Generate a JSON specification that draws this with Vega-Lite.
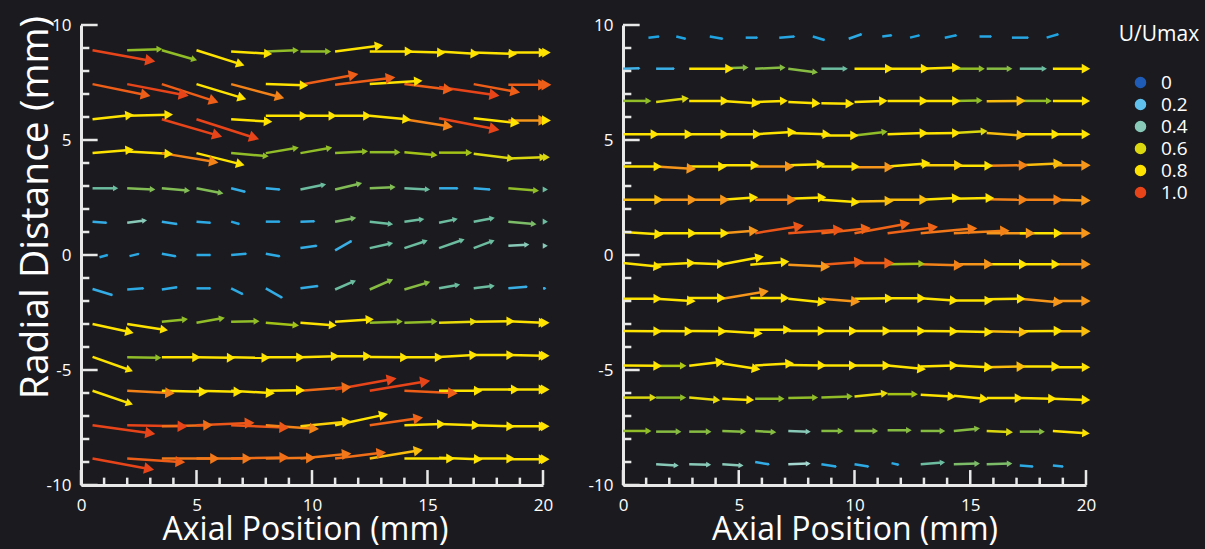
{
  "$schema": "https://vega.github.io/schema/vega-lite/v6.json",
  "background": "#1b1b1f",
  "autosize": {"type": "pad"},
  "padding": {"left": 15, "top": 15, "right": 40, "bottom": 30},
  "config": {
    "view": {"stroke": null},
    "font": "Open Sans"
  },
  "datasets": {
    "L": [
      {"x":0.5,"y":8.9,"x2":3.0,"y2":8.45,"s":1},
      {"x":2.0,"y":8.9,"x2":3.4,"y2":8.95,"s":0.5},
      {"x":3.5,"y":8.9,"x2":4.9,"y2":8.5,"s":0.5},
      {"x":5.0,"y":8.9,"x2":6.9,"y2":8.3,"s":0.8},
      {"x":6.5,"y":8.85,"x2":8.1,"y2":8.75,"s":0.75},
      {"x":8.0,"y":8.85,"x2":9.3,"y2":8.9,"s":0.5},
      {"x":9.5,"y":8.85,"x2":10.7,"y2":8.85,"s":0.5},
      {"x":11.0,"y":8.85,"x2":12.9,"y2":9.1,"s":0.8},
      {"x":12.5,"y":8.85,"x2":14.2,"y2":8.85,"s":0.8},
      {"x":14.0,"y":8.85,"x2":15.6,"y2":8.8,"s":0.8},
      {"x":15.5,"y":8.85,"x2":17.05,"y2":8.75,"s":0.8},
      {"x":17.0,"y":8.8,"x2":18.7,"y2":8.75,"s":0.8},
      {"x":18.5,"y":8.8,"x2":20.0,"y2":8.8,"s":0.8},
      {"x":20.0,"y":8.8,"x2":20.15,"y2":8.8,"s":0.8},
      {"x":0.5,"y":7.43,"x2":2.8,"y2":6.96,"s":0.96},
      {"x":2.0,"y":7.43,"x2":4.45,"y2":6.96,"s":1},
      {"x":3.5,"y":7.43,"x2":5.75,"y2":6.7,"s":0.96},
      {"x":5.0,"y":7.43,"x2":6.97,"y2":6.83,"s":0.84},
      {"x":6.5,"y":7.43,"x2":8.6,"y2":6.87,"s":0.92},
      {"x":8.0,"y":7.43,"x2":9.65,"y2":7.38,"s":0.78},
      {"x":9.5,"y":7.4,"x2":11.8,"y2":7.83,"s":0.96},
      {"x":11.0,"y":7.4,"x2":13.4,"y2":7.7,"s":0.96},
      {"x":12.5,"y":7.43,"x2":14.6,"y2":7.56,"s":0.8},
      {"x":14.0,"y":7.43,"x2":15.9,"y2":7.2,"s":0.96},
      {"x":15.5,"y":7.3,"x2":17.9,"y2":6.96,"s":1},
      {"x":17.0,"y":7.43,"x2":18.8,"y2":7.1,"s":0.96},
      {"x":18.5,"y":7.4,"x2":20.0,"y2":7.4,"s":0.96},
      {"x":20.0,"y":7.4,"x2":20.15,"y2":7.4,"s":0.96},
      {"x":0.5,"y":5.9,"x2":2.1,"y2":6.08,"s":0.8},
      {"x":2.0,"y":6.05,"x2":3.8,"y2":6.1,"s":0.8},
      {"x":3.5,"y":5.9,"x2":5.9,"y2":5.2,"s":1},
      {"x":5.0,"y":5.9,"x2":7.5,"y2":5.1,"s":1},
      {"x":6.5,"y":5.9,"x2":8.1,"y2":5.8,"s":0.8},
      {"x":8.0,"y":6.05,"x2":9.65,"y2":6.05,"s":0.8},
      {"x":9.5,"y":6.05,"x2":10.9,"y2":6.05,"s":0.8},
      {"x":11.0,"y":6.05,"x2":12.4,"y2":6.05,"s":0.8},
      {"x":12.5,"y":6.05,"x2":14.1,"y2":5.9,"s":0.8},
      {"x":14.0,"y":5.9,"x2":15.9,"y2":5.6,"s":0.92},
      {"x":15.5,"y":5.95,"x2":17.9,"y2":5.48,"s":1},
      {"x":17.0,"y":5.95,"x2":18.8,"y2":5.75,"s":0.86},
      {"x":18.5,"y":5.85,"x2":20.0,"y2":5.85,"s":0.9},
      {"x":20.0,"y":5.85,"x2":20.15,"y2":5.85,"s":0.85},
      {"x":0.5,"y":4.43,"x2":2.1,"y2":4.57,"s":0.78},
      {"x":2.0,"y":4.5,"x2":3.8,"y2":4.4,"s":0.8},
      {"x":3.5,"y":4.43,"x2":5.75,"y2":4.05,"s":0.92},
      {"x":5.0,"y":4.43,"x2":6.9,"y2":3.95,"s":0.82},
      {"x":6.5,"y":4.43,"x2":8.0,"y2":4.3,"s":0.5},
      {"x":8.0,"y":4.43,"x2":9.3,"y2":4.65,"s":0.5},
      {"x":9.5,"y":4.43,"x2":10.75,"y2":4.65,"s":0.5},
      {"x":11.0,"y":4.43,"x2":12.3,"y2":4.5,"s":0.5},
      {"x":12.5,"y":4.47,"x2":13.7,"y2":4.47,"s":0.5},
      {"x":14.0,"y":4.47,"x2":15.3,"y2":4.35,"s":0.55},
      {"x":15.5,"y":4.45,"x2":16.8,"y2":4.45,"s":0.55},
      {"x":17.0,"y":4.4,"x2":18.6,"y2":4.2,"s":0.6},
      {"x":18.5,"y":4.2,"x2":20.0,"y2":4.25,"s":0.6},
      {"x":20.0,"y":4.25,"x2":20.15,"y2":4.25,"s":0.6},
      {"x":0.5,"y":2.9,"x2":1.5,"y2":2.9,"s":0.42},
      {"x":2.0,"y":2.9,"x2":3.1,"y2":2.85,"s":0.46},
      {"x":3.5,"y":2.9,"x2":4.6,"y2":2.8,"s":0.46},
      {"x":5.0,"y":2.9,"x2":6.05,"y2":2.7,"s":0.46},
      {"x":6.5,"y":2.9,"x2":7.1,"y2":2.75,"s":0.14},
      {"x":8.0,"y":2.9,"x2":8.6,"y2":2.85,"s":0.14},
      {"x":9.5,"y":2.85,"x2":10.5,"y2":3.05,"s":0.42},
      {"x":11.0,"y":2.85,"x2":12.05,"y2":3.1,"s":0.46},
      {"x":12.5,"y":2.9,"x2":13.5,"y2":2.95,"s":0.46},
      {"x":14.0,"y":2.9,"x2":15.0,"y2":2.85,"s":0.42},
      {"x":15.5,"y":2.9,"x2":16.3,"y2":2.9,"s":0.14},
      {"x":17.0,"y":2.9,"x2":17.7,"y2":2.85,"s":0.14},
      {"x":18.5,"y":2.9,"x2":19.7,"y2":2.8,"s":0.5},
      {"x":20.0,"y":2.85,"x2":20.1,"y2":2.85,"s":0.42},
      {"x":0.5,"y":1.45,"x2":1.1,"y2":1.4,"s":0.14},
      {"x":2.0,"y":1.4,"x2":2.75,"y2":1.5,"s":0.4},
      {"x":3.5,"y":1.45,"x2":4.15,"y2":1.35,"s":0.14},
      {"x":5.0,"y":1.45,"x2":5.6,"y2":1.4,"s":0.13},
      {"x":6.5,"y":1.45,"x2":6.85,"y2":1.35,"s":0.12},
      {"x":8.0,"y":1.45,"x2":8.6,"y2":1.45,"s":0.13},
      {"x":9.5,"y":1.45,"x2":10.1,"y2":1.47,"s":0.14},
      {"x":11.0,"y":1.45,"x2":11.8,"y2":1.6,"s":0.45},
      {"x":12.5,"y":1.45,"x2":13.4,"y2":1.35,"s":0.42},
      {"x":14.0,"y":1.45,"x2":14.75,"y2":1.55,"s":0.42},
      {"x":15.5,"y":1.4,"x2":16.2,"y2":1.55,"s":0.42},
      {"x":17.0,"y":1.45,"x2":17.8,"y2":1.6,"s":0.42},
      {"x":18.5,"y":1.45,"x2":19.6,"y2":1.35,"s":0.45},
      {"x":20.0,"y":1.45,"x2":20.1,"y2":1.45,"s":0.42},
      {"x":0.8,"y":-0.1,"x2":1.15,"y2":0.0,"s":0.12},
      {"x":2.1,"y":-0.05,"x2":2.5,"y2":0.05,"s":0.13},
      {"x":3.5,"y":0.05,"x2":4.1,"y2":-0.05,"s":0.13},
      {"x":5.0,"y":0.0,"x2":5.6,"y2":0.0,"s":0.13},
      {"x":6.5,"y":0.0,"x2":7.15,"y2":0.05,"s":0.13},
      {"x":8.0,"y":0.05,"x2":8.6,"y2":-0.05,"s":0.13},
      {"x":9.5,"y":0.3,"x2":10.2,"y2":0.4,"s":0.14},
      {"x":11.0,"y":0.2,"x2":11.7,"y2":0.6,"s":0.15},
      {"x":12.5,"y":0.3,"x2":13.4,"y2":0.5,"s":0.42},
      {"x":14.0,"y":0.3,"x2":14.9,"y2":0.6,"s":0.42},
      {"x":15.5,"y":0.3,"x2":16.5,"y2":0.65,"s":0.42},
      {"x":17.0,"y":0.3,"x2":17.8,"y2":0.6,"s":0.42},
      {"x":18.5,"y":0.4,"x2":19.3,"y2":0.45,"s":0.4},
      {"x":20.0,"y":0.4,"x2":20.1,"y2":0.4,"s":0.4},
      {"x":0.5,"y":-1.48,"x2":1.35,"y2":-1.74,"s":0.14},
      {"x":2.0,"y":-1.5,"x2":2.7,"y2":-1.45,"s":0.13},
      {"x":3.5,"y":-1.5,"x2":4.15,"y2":-1.4,"s":0.13},
      {"x":5.0,"y":-1.45,"x2":5.6,"y2":-1.45,"s":0.13},
      {"x":6.5,"y":-1.45,"x2":7.0,"y2":-1.7,"s":0.13},
      {"x":8.0,"y":-1.45,"x2":8.7,"y2":-1.85,"s":0.14},
      {"x":9.5,"y":-1.45,"x2":10.25,"y2":-1.35,"s":0.14},
      {"x":11.0,"y":-1.5,"x2":11.8,"y2":-1.15,"s":0.42},
      {"x":12.5,"y":-1.5,"x2":13.4,"y2":-1.1,"s":0.47},
      {"x":14.0,"y":-1.5,"x2":15.0,"y2":-1.2,"s":0.47},
      {"x":15.5,"y":-1.45,"x2":16.3,"y2":-1.3,"s":0.42},
      {"x":17.0,"y":-1.45,"x2":17.8,"y2":-1.35,"s":0.42},
      {"x":18.5,"y":-1.45,"x2":19.3,"y2":-1.38,"s":0.15},
      {"x":20.0,"y":-1.45,"x2":20.1,"y2":-1.45,"s":0.15},
      {"x":0.5,"y":-3.0,"x2":2.1,"y2":-3.35,"s":0.8},
      {"x":2.0,"y":-3.0,"x2":3.6,"y2":-3.25,"s":0.7},
      {"x":3.5,"y":-2.9,"x2":4.5,"y2":-2.8,"s":0.5},
      {"x":5.0,"y":-2.95,"x2":6.1,"y2":-2.75,"s":0.5},
      {"x":6.5,"y":-2.9,"x2":7.6,"y2":-2.88,"s":0.5},
      {"x":8.0,"y":-2.95,"x2":9.3,"y2":-3.05,"s":0.55},
      {"x":9.5,"y":-2.95,"x2":10.9,"y2":-3.05,"s":0.7},
      {"x":11.0,"y":-2.9,"x2":12.5,"y2":-2.8,"s":0.75},
      {"x":12.5,"y":-2.95,"x2":13.8,"y2":-2.9,"s":0.5},
      {"x":14.0,"y":-2.95,"x2":15.3,"y2":-2.9,"s":0.5},
      {"x":15.5,"y":-2.95,"x2":17.0,"y2":-2.9,"s":0.62},
      {"x":17.0,"y":-2.9,"x2":18.6,"y2":-2.88,"s":0.78},
      {"x":18.5,"y":-2.88,"x2":20.0,"y2":-2.95,"s":0.8},
      {"x":20.0,"y":-2.95,"x2":20.1,"y2":-2.95,"s":0.8},
      {"x":0.5,"y":-4.43,"x2":2.1,"y2":-5.0,"s":0.65},
      {"x":2.0,"y":-4.45,"x2":3.35,"y2":-4.47,"s":0.5},
      {"x":3.5,"y":-4.45,"x2":5.0,"y2":-4.45,"s":0.8},
      {"x":5.0,"y":-4.45,"x2":6.5,"y2":-4.47,"s":0.8},
      {"x":6.5,"y":-4.45,"x2":8.0,"y2":-4.47,"s":0.8},
      {"x":8.0,"y":-4.45,"x2":9.5,"y2":-4.45,"s":0.8},
      {"x":9.5,"y":-4.45,"x2":11.0,"y2":-4.4,"s":0.8},
      {"x":11.0,"y":-4.4,"x2":12.4,"y2":-4.4,"s":0.8},
      {"x":12.5,"y":-4.43,"x2":14.0,"y2":-4.45,"s":0.8},
      {"x":14.0,"y":-4.45,"x2":15.5,"y2":-4.45,"s":0.8},
      {"x":15.5,"y":-4.43,"x2":17.0,"y2":-4.35,"s":0.8},
      {"x":17.0,"y":-4.35,"x2":18.6,"y2":-4.35,"s":0.8},
      {"x":18.5,"y":-4.35,"x2":20.0,"y2":-4.38,"s":0.8},
      {"x":20.0,"y":-4.38,"x2":20.1,"y2":-4.38,"s":0.8},
      {"x":0.5,"y":-5.9,"x2":2.1,"y2":-6.45,"s":0.65},
      {"x":2.0,"y":-5.9,"x2":3.85,"y2":-6.0,"s":0.92},
      {"x":3.5,"y":-5.9,"x2":5.3,"y2":-5.95,"s":0.86},
      {"x":5.0,"y":-5.9,"x2":6.8,"y2":-5.95,"s":0.86},
      {"x":6.5,"y":-5.9,"x2":8.2,"y2":-6.0,"s":0.86},
      {"x":8.0,"y":-5.9,"x2":9.5,"y2":-5.88,"s":0.86},
      {"x":9.5,"y":-5.9,"x2":11.5,"y2":-5.75,"s":0.94},
      {"x":11.0,"y":-5.85,"x2":13.45,"y2":-5.4,"s":1},
      {"x":12.5,"y":-5.9,"x2":14.9,"y2":-5.5,"s":1},
      {"x":14.0,"y":-5.9,"x2":16.1,"y2":-6.0,"s":0.96},
      {"x":15.5,"y":-5.9,"x2":17.2,"y2":-5.9,"s":0.82},
      {"x":17.0,"y":-5.85,"x2":18.8,"y2":-5.85,"s":0.82},
      {"x":18.5,"y":-5.85,"x2":20.0,"y2":-5.85,"s":0.82},
      {"x":20.0,"y":-5.85,"x2":20.1,"y2":-5.85,"s":0.82},
      {"x":0.5,"y":-7.4,"x2":3.0,"y2":-7.75,"s":1},
      {"x":2.0,"y":-7.4,"x2":4.4,"y2":-7.45,"s":1},
      {"x":3.5,"y":-7.45,"x2":5.5,"y2":-7.4,"s":0.94},
      {"x":5.0,"y":-7.4,"x2":7.3,"y2":-7.3,"s":0.97},
      {"x":6.5,"y":-7.4,"x2":8.8,"y2":-7.5,"s":0.97},
      {"x":8.0,"y":-7.4,"x2":10.1,"y2":-7.55,"s":0.92},
      {"x":9.5,"y":-7.45,"x2":11.5,"y2":-7.25,"s":0.87},
      {"x":11.0,"y":-7.4,"x2":13.1,"y2":-6.95,"s":0.86},
      {"x":12.5,"y":-7.4,"x2":14.6,"y2":-7.1,"s":0.95},
      {"x":14.0,"y":-7.4,"x2":15.6,"y2":-7.35,"s":0.8},
      {"x":15.5,"y":-7.35,"x2":17.1,"y2":-7.4,"s":0.8},
      {"x":17.0,"y":-7.4,"x2":18.6,"y2":-7.45,"s":0.8},
      {"x":18.5,"y":-7.45,"x2":20.0,"y2":-7.45,"s":0.8},
      {"x":20.0,"y":-7.45,"x2":20.1,"y2":-7.45,"s":0.8},
      {"x":0.5,"y":-8.85,"x2":2.95,"y2":-9.3,"s":1},
      {"x":2.0,"y":-8.85,"x2":4.3,"y2":-9.0,"s":0.96},
      {"x":3.5,"y":-8.85,"x2":5.8,"y2":-8.85,"s":0.93},
      {"x":5.0,"y":-8.85,"x2":7.2,"y2":-8.85,"s":0.93},
      {"x":6.5,"y":-8.85,"x2":8.8,"y2":-8.8,"s":0.94},
      {"x":8.0,"y":-8.85,"x2":9.95,"y2":-8.82,"s":0.93},
      {"x":9.5,"y":-8.85,"x2":11.5,"y2":-8.65,"s":0.93},
      {"x":11.0,"y":-8.85,"x2":13.0,"y2":-8.6,"s":0.94},
      {"x":12.5,"y":-8.85,"x2":14.6,"y2":-8.5,"s":0.88},
      {"x":14.0,"y":-8.85,"x2":16.0,"y2":-8.85,"s":0.82},
      {"x":15.5,"y":-8.82,"x2":17.2,"y2":-8.88,"s":0.82},
      {"x":17.0,"y":-8.85,"x2":18.6,"y2":-8.85,"s":0.8},
      {"x":18.5,"y":-8.88,"x2":20.0,"y2":-8.88,"s":0.8},
      {"x":20.0,"y":-8.88,"x2":20.1,"y2":-8.88,"s":0.8}
    ],
    "R": [
      {"x":1.1,"y":9.45,"x2":1.55,"y2":9.5,"s":0.11},
      {"x":2.3,"y":9.5,"x2":2.7,"y2":9.4,"s":0.11},
      {"x":3.75,"y":9.5,"x2":4.3,"y2":9.4,"s":0.11},
      {"x":5.3,"y":9.45,"x2":5.8,"y2":9.45,"s":0.12},
      {"x":6.75,"y":9.45,"x2":7.4,"y2":9.5,"s":0.12},
      {"x":8.2,"y":9.5,"x2":8.7,"y2":9.35,"s":0.11},
      {"x":9.75,"y":9.4,"x2":10.3,"y2":9.6,"s":0.13},
      {"x":11.2,"y":9.5,"x2":11.6,"y2":9.55,"s":0.12},
      {"x":12.4,"y":9.45,"x2":12.8,"y2":9.55,"s":0.11},
      {"x":13.9,"y":9.45,"x2":14.4,"y2":9.55,"s":0.11},
      {"x":15.4,"y":9.5,"x2":15.9,"y2":9.5,"s":0.12},
      {"x":16.8,"y":9.45,"x2":17.5,"y2":9.45,"s":0.12},
      {"x":18.3,"y":9.45,"x2":18.8,"y2":9.6,"s":0.11},
      {"x":0.0,"y":8.1,"x2":0.7,"y2":8.12,"s":0.16},
      {"x":1.43,"y":8.1,"x2":2.2,"y2":8.1,"s":0.15},
      {"x":2.86,"y":8.1,"x2":4.6,"y2":8.1,"s":0.8},
      {"x":4.4,"y":8.12,"x2":5.3,"y2":8.15,"s":0.47},
      {"x":5.71,"y":8.1,"x2":6.9,"y2":8.15,"s":0.47},
      {"x":7.14,"y":8.1,"x2":8.3,"y2":7.95,"s":0.47},
      {"x":8.57,"y":8.1,"x2":9.6,"y2":8.1,"s":0.42},
      {"x":10.0,"y":8.1,"x2":11.5,"y2":8.1,"s":0.8},
      {"x":11.43,"y":8.1,"x2":13.05,"y2":8.1,"s":0.8},
      {"x":12.86,"y":8.1,"x2":14.4,"y2":8.15,"s":0.8},
      {"x":14.29,"y":8.1,"x2":15.5,"y2":8.1,"s":0.5},
      {"x":15.71,"y":8.1,"x2":16.7,"y2":8.1,"s":0.47},
      {"x":17.14,"y":8.1,"x2":18.2,"y2":8.1,"s":0.42},
      {"x":18.57,"y":8.1,"x2":20.0,"y2":8.1,"s":0.8},
      {"x":0.0,"y":6.7,"x2":1.1,"y2":6.7,"s":0.5},
      {"x":1.43,"y":6.65,"x2":2.7,"y2":6.8,"s":0.6},
      {"x":2.86,"y":6.7,"x2":4.4,"y2":6.7,"s":0.78},
      {"x":4.29,"y":6.7,"x2":5.75,"y2":6.6,"s":0.8},
      {"x":5.71,"y":6.65,"x2":6.95,"y2":6.7,"s":0.7},
      {"x":7.14,"y":6.65,"x2":8.35,"y2":6.6,"s":0.8},
      {"x":8.57,"y":6.6,"x2":9.8,"y2":6.58,"s":0.8},
      {"x":10.0,"y":6.65,"x2":11.25,"y2":6.7,"s":0.8},
      {"x":11.43,"y":6.7,"x2":13.0,"y2":6.7,"s":0.8},
      {"x":12.86,"y":6.7,"x2":14.4,"y2":6.7,"s":0.8},
      {"x":14.29,"y":6.7,"x2":15.4,"y2":6.72,"s":0.5},
      {"x":15.71,"y":6.68,"x2":17.2,"y2":6.7,"s":0.88},
      {"x":17.14,"y":6.7,"x2":18.4,"y2":6.7,"s":0.5},
      {"x":18.57,"y":6.7,"x2":20.0,"y2":6.7,"s":0.76},
      {"x":0.0,"y":5.25,"x2":1.38,"y2":5.25,"s":0.82},
      {"x":1.43,"y":5.25,"x2":2.85,"y2":5.25,"s":0.82},
      {"x":2.86,"y":5.25,"x2":4.4,"y2":5.25,"s":0.82},
      {"x":4.29,"y":5.25,"x2":5.8,"y2":5.25,"s":0.82},
      {"x":5.71,"y":5.25,"x2":7.3,"y2":5.35,"s":0.82},
      {"x":7.14,"y":5.3,"x2":8.8,"y2":5.25,"s":0.78},
      {"x":8.57,"y":5.2,"x2":10.0,"y2":5.2,"s":0.8},
      {"x":10.0,"y":5.2,"x2":11.3,"y2":5.35,"s":0.5},
      {"x":11.43,"y":5.25,"x2":13.0,"y2":5.3,"s":0.8},
      {"x":12.86,"y":5.28,"x2":14.4,"y2":5.3,"s":0.8},
      {"x":14.29,"y":5.3,"x2":15.6,"y2":5.38,"s":0.6},
      {"x":15.71,"y":5.3,"x2":17.2,"y2":5.2,"s":0.88},
      {"x":17.14,"y":5.25,"x2":18.7,"y2":5.25,"s":0.82},
      {"x":18.57,"y":5.25,"x2":20.0,"y2":5.25,"s":0.82},
      {"x":0.0,"y":3.85,"x2":1.5,"y2":3.85,"s":0.76},
      {"x":1.43,"y":3.85,"x2":2.95,"y2":3.75,"s":0.9},
      {"x":2.86,"y":3.85,"x2":4.3,"y2":3.85,"s":0.82},
      {"x":4.29,"y":3.9,"x2":5.7,"y2":3.9,"s":0.82},
      {"x":5.71,"y":3.85,"x2":7.2,"y2":3.85,"s":0.9},
      {"x":7.14,"y":3.9,"x2":8.55,"y2":3.95,"s":0.8},
      {"x":8.57,"y":3.85,"x2":10.05,"y2":3.85,"s":0.78},
      {"x":10.0,"y":3.82,"x2":11.5,"y2":3.82,"s":0.9},
      {"x":11.43,"y":3.85,"x2":13.1,"y2":3.98,"s":0.82},
      {"x":12.86,"y":3.9,"x2":14.5,"y2":3.9,"s":0.87},
      {"x":14.29,"y":3.88,"x2":15.8,"y2":3.88,"s":0.82},
      {"x":15.71,"y":3.88,"x2":17.3,"y2":3.9,"s":0.92},
      {"x":17.14,"y":3.9,"x2":18.8,"y2":3.98,"s":0.88},
      {"x":18.57,"y":3.9,"x2":20.0,"y2":3.9,"s":0.9},
      {"x":0.0,"y":2.4,"x2":1.55,"y2":2.4,"s":0.88},
      {"x":1.43,"y":2.4,"x2":3.0,"y2":2.4,"s":0.9},
      {"x":2.86,"y":2.4,"x2":4.4,"y2":2.4,"s":0.9},
      {"x":4.29,"y":2.4,"x2":5.65,"y2":2.5,"s":0.82},
      {"x":5.71,"y":2.4,"x2":7.3,"y2":2.4,"s":0.92},
      {"x":7.14,"y":2.45,"x2":8.6,"y2":2.5,"s":0.8},
      {"x":8.57,"y":2.4,"x2":10.05,"y2":2.3,"s":0.8},
      {"x":10.0,"y":2.33,"x2":11.5,"y2":2.35,"s":0.88},
      {"x":11.43,"y":2.4,"x2":13.0,"y2":2.4,"s":0.88},
      {"x":12.86,"y":2.4,"x2":14.4,"y2":2.48,"s":0.82},
      {"x":14.29,"y":2.45,"x2":15.85,"y2":2.48,"s":0.82},
      {"x":15.71,"y":2.42,"x2":17.3,"y2":2.4,"s":0.92},
      {"x":17.14,"y":2.4,"x2":18.8,"y2":2.4,"s":0.92},
      {"x":18.57,"y":2.4,"x2":20.0,"y2":2.37,"s":0.9},
      {"x":0.0,"y":1.0,"x2":1.55,"y2":0.9,"s":0.85},
      {"x":1.43,"y":0.95,"x2":3.0,"y2":0.95,"s":0.82},
      {"x":2.86,"y":0.95,"x2":4.4,"y2":0.95,"s":0.82},
      {"x":4.29,"y":0.95,"x2":5.65,"y2":1.05,"s":0.9},
      {"x":5.71,"y":0.95,"x2":7.6,"y2":1.25,"s":0.97},
      {"x":7.14,"y":0.95,"x2":9.3,"y2":1.1,"s":0.97},
      {"x":8.57,"y":0.95,"x2":10.5,"y2":1.15,"s":0.95},
      {"x":10.0,"y":0.95,"x2":12.2,"y2":1.35,"s":0.95},
      {"x":11.43,"y":0.95,"x2":13.4,"y2":1.2,"s":0.95},
      {"x":12.86,"y":0.95,"x2":15.1,"y2":1.15,"s":0.93},
      {"x":14.29,"y":0.95,"x2":16.5,"y2":1.05,"s":0.92},
      {"x":15.71,"y":0.95,"x2":17.6,"y2":0.95,"s":0.9},
      {"x":17.14,"y":0.95,"x2":18.8,"y2":0.95,"s":0.82},
      {"x":18.57,"y":0.95,"x2":20.0,"y2":0.95,"s":0.9},
      {"x":0.0,"y":-0.35,"x2":1.5,"y2":-0.5,"s":0.8},
      {"x":1.43,"y":-0.42,"x2":2.95,"y2":-0.35,"s":0.8},
      {"x":2.86,"y":-0.35,"x2":4.25,"y2":-0.4,"s":0.8},
      {"x":4.29,"y":-0.4,"x2":5.9,"y2":-0.1,"s":0.82},
      {"x":5.5,"y":-0.42,"x2":7.0,"y2":-0.3,"s":0.8},
      {"x":7.14,"y":-0.42,"x2":8.75,"y2":-0.5,"s":0.9},
      {"x":8.57,"y":-0.42,"x2":10.2,"y2":-0.3,"s":0.96},
      {"x":10.0,"y":-0.35,"x2":11.5,"y2":-0.35,"s":0.96},
      {"x":11.43,"y":-0.4,"x2":12.9,"y2":-0.38,"s":0.55},
      {"x":12.86,"y":-0.4,"x2":14.5,"y2":-0.45,"s":0.92},
      {"x":14.29,"y":-0.4,"x2":15.8,"y2":-0.4,"s":0.9},
      {"x":15.71,"y":-0.4,"x2":17.3,"y2":-0.4,"s":0.86},
      {"x":17.14,"y":-0.4,"x2":18.7,"y2":-0.4,"s":0.82},
      {"x":18.57,"y":-0.4,"x2":20.0,"y2":-0.4,"s":0.9},
      {"x":0.0,"y":-1.9,"x2":1.5,"y2":-1.9,"s":0.8},
      {"x":1.43,"y":-1.9,"x2":2.95,"y2":-2.0,"s":0.84},
      {"x":2.86,"y":-1.87,"x2":4.25,"y2":-1.87,"s":0.82},
      {"x":4.29,"y":-1.9,"x2":6.1,"y2":-1.6,"s":0.9},
      {"x":5.5,"y":-1.87,"x2":7.0,"y2":-1.87,"s":0.8},
      {"x":7.14,"y":-1.9,"x2":8.6,"y2":-2.05,"s":0.8},
      {"x":8.57,"y":-1.9,"x2":10.05,"y2":-2.02,"s":0.9},
      {"x":10.0,"y":-1.9,"x2":11.5,"y2":-1.88,"s":0.8},
      {"x":11.43,"y":-1.88,"x2":12.9,"y2":-1.88,"s":0.8},
      {"x":12.86,"y":-1.88,"x2":14.3,"y2":-1.98,"s":0.8},
      {"x":14.29,"y":-1.98,"x2":15.8,"y2":-1.98,"s":0.8},
      {"x":15.71,"y":-1.92,"x2":17.2,"y2":-1.9,"s":0.8},
      {"x":17.14,"y":-1.9,"x2":18.8,"y2":-2.05,"s":0.9},
      {"x":18.57,"y":-2.0,"x2":20.0,"y2":-2.0,"s":0.9},
      {"x":0.0,"y":-3.3,"x2":1.5,"y2":-3.32,"s":0.82},
      {"x":1.43,"y":-3.3,"x2":2.85,"y2":-3.32,"s":0.82},
      {"x":2.86,"y":-3.3,"x2":4.3,"y2":-3.32,"s":0.82},
      {"x":4.29,"y":-3.3,"x2":5.85,"y2":-3.4,"s":0.82},
      {"x":5.71,"y":-3.25,"x2":7.1,"y2":-3.25,"s":0.78},
      {"x":7.14,"y":-3.3,"x2":8.6,"y2":-3.3,"s":0.82},
      {"x":8.57,"y":-3.3,"x2":9.95,"y2":-3.3,"s":0.82},
      {"x":10.0,"y":-3.3,"x2":11.4,"y2":-3.3,"s":0.82},
      {"x":11.43,"y":-3.3,"x2":12.9,"y2":-3.3,"s":0.82},
      {"x":12.86,"y":-3.3,"x2":14.3,"y2":-3.32,"s":0.82},
      {"x":14.29,"y":-3.32,"x2":15.8,"y2":-3.35,"s":0.82},
      {"x":15.71,"y":-3.32,"x2":17.3,"y2":-3.35,"s":0.88},
      {"x":17.14,"y":-3.32,"x2":18.8,"y2":-3.3,"s":0.86},
      {"x":18.57,"y":-3.32,"x2":20.0,"y2":-3.32,"s":0.88},
      {"x":0.0,"y":-4.8,"x2":1.5,"y2":-4.82,"s":0.82},
      {"x":1.43,"y":-4.82,"x2":2.6,"y2":-4.82,"s":0.56},
      {"x":2.86,"y":-4.82,"x2":4.2,"y2":-4.65,"s":0.82},
      {"x":4.29,"y":-4.72,"x2":5.75,"y2":-4.95,"s":0.82},
      {"x":5.71,"y":-4.8,"x2":7.2,"y2":-4.72,"s":0.82},
      {"x":7.14,"y":-4.78,"x2":8.6,"y2":-4.8,"s":0.82},
      {"x":8.57,"y":-4.8,"x2":9.95,"y2":-4.8,"s":0.82},
      {"x":10.0,"y":-4.8,"x2":11.4,"y2":-4.8,"s":0.82},
      {"x":11.43,"y":-4.8,"x2":12.9,"y2":-4.95,"s":0.82},
      {"x":12.86,"y":-4.85,"x2":14.3,"y2":-4.8,"s":0.82},
      {"x":14.29,"y":-4.8,"x2":15.8,"y2":-4.88,"s":0.86},
      {"x":15.71,"y":-4.88,"x2":17.2,"y2":-4.85,"s":0.88},
      {"x":17.14,"y":-4.85,"x2":18.7,"y2":-4.85,"s":0.86},
      {"x":18.57,"y":-4.88,"x2":20.0,"y2":-4.88,"s":0.78},
      {"x":0.0,"y":-6.2,"x2":1.3,"y2":-6.2,"s":0.6},
      {"x":1.43,"y":-6.2,"x2":2.6,"y2":-6.2,"s":0.5},
      {"x":2.86,"y":-6.2,"x2":4.05,"y2":-6.3,"s":0.62},
      {"x":4.29,"y":-6.25,"x2":5.5,"y2":-6.3,"s":0.7},
      {"x":5.71,"y":-6.25,"x2":6.85,"y2":-6.25,"s":0.5},
      {"x":7.14,"y":-6.22,"x2":8.3,"y2":-6.2,"s":0.5},
      {"x":8.57,"y":-6.2,"x2":9.8,"y2":-6.15,"s":0.5},
      {"x":10.0,"y":-6.15,"x2":11.3,"y2":-6.02,"s":0.62},
      {"x":11.43,"y":-6.05,"x2":12.6,"y2":-6.05,"s":0.55},
      {"x":12.86,"y":-6.08,"x2":14.2,"y2":-6.15,"s":0.76},
      {"x":14.29,"y":-6.12,"x2":15.6,"y2":-6.25,"s":0.8},
      {"x":15.71,"y":-6.22,"x2":17.1,"y2":-6.22,"s":0.78},
      {"x":17.14,"y":-6.22,"x2":18.55,"y2":-6.25,"s":0.8},
      {"x":18.57,"y":-6.25,"x2":20.0,"y2":-6.3,"s":0.8},
      {"x":0.0,"y":-7.65,"x2":1.1,"y2":-7.65,"s":0.5},
      {"x":1.43,"y":-7.68,"x2":2.4,"y2":-7.68,"s":0.47},
      {"x":2.86,"y":-7.68,"x2":3.7,"y2":-7.68,"s":0.47},
      {"x":4.29,"y":-7.65,"x2":5.2,"y2":-7.68,"s":0.47},
      {"x":5.71,"y":-7.65,"x2":6.5,"y2":-7.7,"s":0.47},
      {"x":7.14,"y":-7.65,"x2":8.0,"y2":-7.68,"s":0.4},
      {"x":8.57,"y":-7.65,"x2":9.4,"y2":-7.65,"s":0.47},
      {"x":10.0,"y":-7.65,"x2":10.9,"y2":-7.65,"s":0.47},
      {"x":11.43,"y":-7.62,"x2":12.35,"y2":-7.62,"s":0.47},
      {"x":12.86,"y":-7.65,"x2":13.8,"y2":-7.65,"s":0.47},
      {"x":14.29,"y":-7.65,"x2":15.3,"y2":-7.55,"s":0.47},
      {"x":15.71,"y":-7.65,"x2":16.7,"y2":-7.7,"s":0.6},
      {"x":17.14,"y":-7.68,"x2":18.1,"y2":-7.68,"s":0.47},
      {"x":18.57,"y":-7.65,"x2":20.0,"y2":-7.75,"s":0.68},
      {"x":1.43,"y":-9.1,"x2":2.3,"y2":-9.15,"s":0.4},
      {"x":2.86,"y":-9.1,"x2":3.7,"y2":-9.12,"s":0.4},
      {"x":4.29,"y":-9.1,"x2":5.1,"y2":-9.15,"s":0.4},
      {"x":5.71,"y":-9.0,"x2":6.3,"y2":-9.1,"s":0.14},
      {"x":7.14,"y":-9.1,"x2":8.0,"y2":-9.07,"s":0.38},
      {"x":8.57,"y":-9.1,"x2":9.2,"y2":-9.2,"s":0.13},
      {"x":10.0,"y":-9.1,"x2":10.6,"y2":-9.2,"s":0.13},
      {"x":11.6,"y":-9.05,"x2":11.9,"y2":-9.12,"s":0.13},
      {"x":12.86,"y":-9.1,"x2":13.8,"y2":-9.02,"s":0.42},
      {"x":14.29,"y":-9.1,"x2":15.3,"y2":-9.07,"s":0.45},
      {"x":15.71,"y":-9.1,"x2":16.7,"y2":-9.07,"s":0.45},
      {"x":17.14,"y":-9.15,"x2":17.7,"y2":-9.2,"s":0.13},
      {"x":18.57,"y":-9.15,"x2":19.0,"y2":-9.2,"s":0.13}
    ]
  },
  "spacing": 80,
  "bounds": "flush",
  "resolve": {"scale": {"color": "shared"}},
  "hconcat": [
    {
      "width": 462, "height": 460,
      "layer": [
        {
          "data": {"name": "L"},
          "mark": {"type": "rule", "strokeWidth": 2.5},
          "encoding": {
            "x": {"field": "x", "type": "quantitative", "scale": {"domain": [0, 20], "nice": false, "zero": false},
                  "axis": {"orient": "bottom", "values": [0, 5, 10, 15, 20], "grid": false, "domain": true, "domainColor": "#e8e8e8", "domainWidth": 3, "ticks": false,
                           "labelColor": "#ffffff", "labelFont": "Open Sans", "labelFontSize": 17, "labelPadding": 12, "labelFlush": false,
                           "title": "Axial Position (mm)", "titleColor": "#ffffff", "titleFont": "Open Sans", "titleFontWeight": "normal",
                           "titleFontSize": 32, "titlePadding": 1, "titleX": 224}},
            "y": {"field": "y", "type": "quantitative", "scale": {"domain": [-10, 10], "nice": false, "zero": false},
                  "axis": {"orient": "left", "values": [-10, -5, 0, 5, 10], "grid": false, "domain": true, "domainColor": "#e8e8e8", "domainWidth": 3, "ticks": false,
                           "labelColor": "#ffffff", "labelFont": "Open Sans", "labelFontSize": 17, "labelPadding": 10, "labelFlush": false,
                           "labelExpr": "datum.value < 0 ? '-' + abs(datum.value) : '' + datum.value",
                           "title": "Radial Distance (mm)", "titleColor": "#ffffff", "titleFont": "Open Sans", "titleFontWeight": "normal",
                           "titleFontSize": 39, "titleAngle": 270, "titleAlign": "center",
                           "titleBaseline": "alphabetic", "titleX": -34, "titleY": 182}},
            "x2": {"field": "x2"},
            "y2": {"field": "y2"},
            "color": {"field": "s", "type": "quantitative",
                      "scale": {"domain": [0, 0.06, 0.1, 0.18, 0.24, 0.3, 0.36, 0.42, 0.48, 0.54, 0.6, 0.65, 0.86, 0.9, 0.95, 1.0],
                                "range": ["#1f5cb8", "#1f7ccc", "#1aa0e0", "#4db8ea", "#86cff2", "#c6eaf8", "#c0e4e8", "#6cbca0", "#8cbc30", "#98c018", "#dcd810", "#fce200", "#ffe400", "#f6961a", "#ef6418", "#e8441a"],
                                "interpolate": "rgb"},
                      "legend": {"type": "gradient", "orient": "none", "legendX": 1038, "legendY": -1, "direction": "vertical",
                                 "gradientLength": 251, "gradientThickness": 29, "gradientStrokeWidth": 0,
                                 "title": "U/Umax", "titleColor": "#ffffff", "titleFont": "Open Sans", "titleFontSize": 21,
                                 "titleFontWeight": "normal", "titlePadding": 28, "titleAnchor": "middle", "padding": 0,
                                 "labelColor": "#ffffff", "labelFont": "Open Sans", "labelFontSize": 19, "labelOffset": 11,
                                 "values": [0, 0.2, 0.4, 0.6, 0.8, 1.0],
                                 "labelExpr": "datum.value == 0 ? '0' : format(datum.value, '.1f')"}}
          }
        },
        {
          "data": {"name": "L"},
          "transform": [{"calculate": "-atan2(datum.y2 - datum.y, datum.x2 - datum.x) * 180 / PI", "as": "ang"}],
          "mark": {"type": "point", "shape": "triangle-right", "filled": true, "opacity": 1, "strokeWidth": 0},
          "encoding": {
            "x": {"field": "x2", "type": "quantitative"},
            "y": {"field": "y2", "type": "quantitative"},
            "angle": {"field": "ang", "type": "quantitative", "scale": null},
            "size": {"field": "s", "type": "quantitative", "scale": {"type": "pow", "exponent": 1.5, "domain": [0, 1], "range": [0, 135]}, "legend": null},
            "color": {"field": "s", "type": "quantitative"}
          }
        },
        {
          "data": {"values": [
            {"v":0,"m":1},{"v":1,"m":0},{"v":2,"m":0},{"v":3,"m":0},{"v":4,"m":0},{"v":5,"m":1},{"v":6,"m":0},
            {"v":7,"m":0},{"v":8,"m":0},{"v":9,"m":0},{"v":10,"m":1},{"v":11,"m":0},{"v":12,"m":0},{"v":13,"m":0},
            {"v":14,"m":0},{"v":15,"m":1},{"v":16,"m":0},{"v":17,"m":0},{"v":18,"m":0},{"v":19,"m":0},{"v":20,"m":1}
          ]},
          "transform": [{"calculate": "datum.m == 1 ? -9.35 : -9.68", "as": "e"}, {"calculate": "-10", "as": "b"}],
          "mark": {"type": "rule", "stroke": "#e8e8e8", "strokeWidth": 2.5, "opacity": 1},
          "encoding": {
            "x": {"field": "v", "type": "quantitative"},
            "y": {"field": "b", "type": "quantitative"},
            "y2": {"field": "e"}
          }
        },
        {
          "data": {"values": [
            {"v":-10,"m":1},{"v":-9,"m":0},{"v":-8,"m":0},{"v":-7,"m":0},{"v":-6,"m":0},{"v":-5,"m":1},{"v":-4,"m":0},
            {"v":-3,"m":0},{"v":-2,"m":0},{"v":-1,"m":0},{"v":0,"m":1},{"v":1,"m":0},{"v":2,"m":0},{"v":3,"m":0},
            {"v":4,"m":0},{"v":5,"m":1},{"v":6,"m":0},{"v":7,"m":0},{"v":8,"m":0},{"v":9,"m":0},{"v":10,"m":1}
          ]},
          "transform": [{"calculate": "datum.m == 1 ? 0.72 : 0.36", "as": "e"}, {"calculate": "0", "as": "b"}],
          "mark": {"type": "rule", "stroke": "#e8e8e8", "strokeWidth": 2.5, "opacity": 1},
          "encoding": {
            "y": {"field": "v", "type": "quantitative"},
            "x": {"field": "b", "type": "quantitative"},
            "x2": {"field": "e"}
          }
        }
      ]
    },
    {
      "width": 463, "height": 460,
      "layer": [
        {
          "data": {"name": "R"},
          "mark": {"type": "rule", "strokeWidth": 2.5},
          "encoding": {
            "x": {"field": "x", "type": "quantitative", "scale": {"domain": [0, 20], "nice": false, "zero": false},
                  "axis": {"orient": "bottom", "values": [0, 5, 10, 15, 20], "grid": false, "domain": true, "domainColor": "#e8e8e8", "domainWidth": 3, "ticks": false,
                           "labelColor": "#ffffff", "labelFont": "Open Sans", "labelFontSize": 17, "labelPadding": 12, "labelFlush": false,
                           "title": "Axial Position (mm)", "titleColor": "#ffffff", "titleFont": "Open Sans", "titleFontWeight": "normal",
                           "titleFontSize": 32, "titlePadding": 1}},
            "y": {"field": "y", "type": "quantitative", "scale": {"domain": [-10, 10], "nice": false, "zero": false},
                  "axis": {"orient": "left", "values": [-10, -5, 0, 5, 10], "grid": false, "domain": true, "domainColor": "#e8e8e8", "domainWidth": 3, "ticks": false,
                           "labelColor": "#ffffff", "labelFont": "Open Sans", "labelFontSize": 17, "labelPadding": 10, "labelFlush": false,
                           "labelExpr": "datum.value < 0 ? '-' + abs(datum.value) : '' + datum.value",
                           "title": null}},
            "x2": {"field": "x2"},
            "y2": {"field": "y2"},
            "color": {"field": "s", "type": "quantitative"}
          }
        },
        {
          "data": {"name": "R"},
          "transform": [{"calculate": "-atan2(datum.y2 - datum.y, datum.x2 - datum.x) * 180 / PI", "as": "ang"}],
          "mark": {"type": "point", "shape": "triangle-right", "filled": true, "opacity": 1, "strokeWidth": 0},
          "encoding": {
            "x": {"field": "x2", "type": "quantitative"},
            "y": {"field": "y2", "type": "quantitative"},
            "angle": {"field": "ang", "type": "quantitative", "scale": null},
            "size": {"field": "s", "type": "quantitative", "scale": {"type": "pow", "exponent": 1.5, "domain": [0, 1], "range": [0, 135]}, "legend": null},
            "color": {"field": "s", "type": "quantitative"}
          }
        },
        {
          "data": {"values": [
            {"v":0,"m":1},{"v":1,"m":0},{"v":2,"m":0},{"v":3,"m":0},{"v":4,"m":0},{"v":5,"m":1},{"v":6,"m":0},
            {"v":7,"m":0},{"v":8,"m":0},{"v":9,"m":0},{"v":10,"m":1},{"v":11,"m":0},{"v":12,"m":0},{"v":13,"m":0},
            {"v":14,"m":0},{"v":15,"m":1},{"v":16,"m":0},{"v":17,"m":0},{"v":18,"m":0},{"v":19,"m":0},{"v":20,"m":1}
          ]},
          "transform": [{"calculate": "datum.m == 1 ? -9.35 : -9.68", "as": "e"}, {"calculate": "-10", "as": "b"}],
          "mark": {"type": "rule", "stroke": "#e8e8e8", "strokeWidth": 2.5, "opacity": 1},
          "encoding": {
            "x": {"field": "v", "type": "quantitative"},
            "y": {"field": "b", "type": "quantitative"},
            "y2": {"field": "e"}
          }
        },
        {
          "data": {"values": [
            {"v":-10,"m":1},{"v":-9,"m":0},{"v":-8,"m":0},{"v":-7,"m":0},{"v":-6,"m":0},{"v":-5,"m":1},{"v":-4,"m":0},
            {"v":-3,"m":0},{"v":-2,"m":0},{"v":-1,"m":0},{"v":0,"m":1},{"v":1,"m":0},{"v":2,"m":0},{"v":3,"m":0},
            {"v":4,"m":0},{"v":5,"m":1},{"v":6,"m":0},{"v":7,"m":0},{"v":8,"m":0},{"v":9,"m":0},{"v":10,"m":1}
          ]},
          "transform": [{"calculate": "datum.m == 1 ? 0.72 : 0.36", "as": "e"}, {"calculate": "0", "as": "b"}],
          "mark": {"type": "rule", "stroke": "#e8e8e8", "strokeWidth": 2.5, "opacity": 1},
          "encoding": {
            "y": {"field": "v", "type": "quantitative"},
            "x": {"field": "b", "type": "quantitative"},
            "x2": {"field": "e"}
          }
        }
      ]
    }
  ]
}
